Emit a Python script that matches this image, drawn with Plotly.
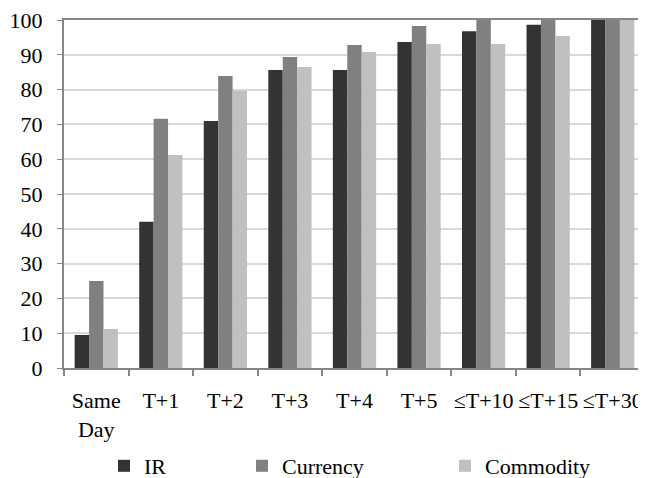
import plotly.graph_objects as go

categories = ["Same<br>Day", "T+1", "T+2", "T+3", "T+4", "T+5", "≤T+10", "≤T+15", "≤T+30"]
ir = [9.5, 42.0, 71.0, 85.6, 85.6, 93.7, 96.8, 98.6, 100]
currency = [25.0, 71.6, 83.9, 89.4, 92.8, 98.3, 100, 100, 100]
commodity = [11.2, 61.2, 79.7, 86.5, 90.8, 93.1, 93.1, 95.4, 100]

series = [("IR", ir, "#333333", "legend"),
          ("Currency", currency, "#808080", "legend2"),
          ("Commodity", commodity, "#c0c0c0", "legend3")]

fig = go.Figure()
for name, vals, col, leg in series:
    fig.add_trace(go.Bar(x=categories, y=vals, name=name, marker_color=col,
                         marker_line_width=0, legend=leg))

font = dict(family="Liberation Serif", size=22, color="#000000")

# page body has an 8px margin, so the figure is 8px smaller than the window
W, H = 638, 470

# one legend per series so each entry sits where it does in the original
def leg(x):
    return dict(x=x / W, y=1 - 458 / H, xref="container", yref="container",
                xanchor="left", yanchor="middle", orientation="h",
                font=font, bgcolor="rgba(0,0,0,0)", itemwidth=30)

fig.update_layout(
    width=W, height=H,
    margin=dict(l=56, r=1, t=12, b=110, autoexpand=False),
    paper_bgcolor="white", plot_bgcolor="white",
    font=font,
    barmode="group", bargap=0.33, bargroupgap=0,
    showlegend=True,
    legend=leg(96),
    legend2=leg(234),
    legend3=leg(437),
)
fig.update_xaxes(showline=True, linecolor="#868686", linewidth=2, mirror=True,
                 ticks="outside", tickson="boundaries", ticklen=6, tickcolor="#868686",
                 tickwidth=1.5, ticklabelstandoff=12, showgrid=False,
                 tickangle=0, automargin=False)
fig.update_yaxes(range=[0, 100], dtick=10, showline=True, linecolor="#868686",
                 linewidth=2, mirror=True, ticks="outside", ticklen=5,
                 tickcolor="#868686", gridcolor="#d9d9d9", gridwidth=1.5,
                 ticklabelstandoff=10, zeroline=False, automargin=False,
                 ticklabeloverflow="allow")

fig.write_html("out.html")
